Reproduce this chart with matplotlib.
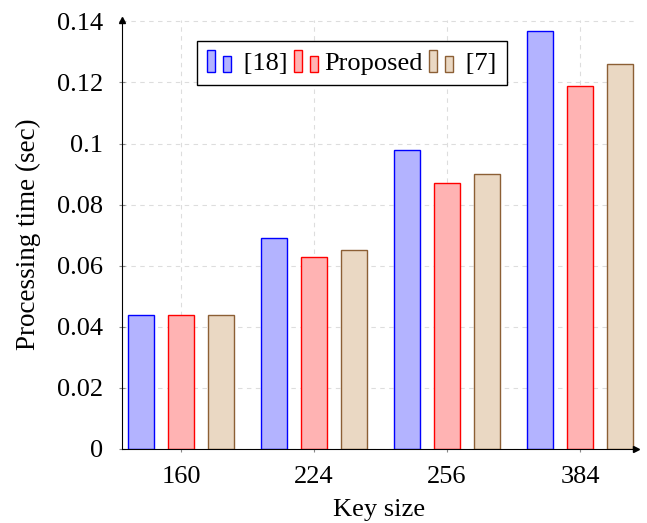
import numpy as np
import matplotlib
matplotlib.use("Agg")
from matplotlib import pyplot as plt
from matplotlib.patches import Rectangle
from matplotlib.legend_handler import HandlerBase

# Data
key_sizes = ["160", "224", "256", "384"]
ref18 = [0.044, 0.069, 0.098, 0.137]
proposed = [0.044, 0.063, 0.087, 0.119]
ref7 = [0.044, 0.065, 0.090, 0.126]
series_names = [" [18]", "Proposed", " [7]"]

plt.rcParams["font.family"] = ["Liberation Serif", "DejaVu Serif"]


class TwoBarHandler(HandlerBase):
    # pgfplots style legend: two small bars of different height
    def create_artists(self, legend, orig, xd, yd, width, height, fontsize, trans):
        fc = orig.get_facecolor()
        ec = orig.get_edgecolor()
        w = width / 3
        base = yd - height * 0.1
        r1 = Rectangle((xd, base), w, height * 1.15,
                       facecolor=fc, edgecolor=ec, lw=1, transform=trans)
        r2 = Rectangle((xd + width * 2 / 3, base), w, height * 0.87,
                       facecolor=fc, edgecolor=ec, lw=1, transform=trans)
        return [r1, r2]


fig = plt.figure(figsize=(6.47, 5.23), dpi=100)
ax = fig.add_axes([0.1878, 0.1415, 0.795, 0.8205])

x = np.arange(len(key_sizes))
width = 0.2
offset = 0.3
styles = [
    ("#b3b3ff", "#0000ff"),
    ("#ffb3b3", "#ff0000"),
    ("#ead8c3", "#8c5f35"),
]
bars = []
for i, (vals, (fc, ec)) in enumerate(zip([ref18, proposed, ref7], styles)):
    b = ax.bar(x + (i - 1) * offset, vals, width, facecolor=fc, edgecolor=ec,
               linewidth=1, zorder=3, label=series_names[i])
    bars.append(b[0])

ax.set_xlim(-0.447, 3.42)
ax.set_ylim(0, 0.1405)
ax.set_xticks(x)
ax.set_xticklabels(key_sizes)
ax.set_yticks(np.arange(0, 0.141, 0.02))
ax.set_yticklabels(["0", "0.02", "0.04", "0.06", "0.08", "0.1", "0.12", "0.14"])
ax.tick_params(labelsize=19, direction="inout", length=5, color="#888888",
               width=0.8)
ax.tick_params(axis="y", pad=10.5)
ax.tick_params(axis="x", pad=9.5)
ax.grid(True, linestyle=(0, (4, 4)), color="#dddddd", linewidth=0.8, zorder=0)

ax.spines["top"].set_visible(False)
ax.spines["right"].set_visible(False)
ax.spines["left"].set_zorder(4)
ax.spines["bottom"].set_zorder(4)
# arrow heads on the axes
ax.plot(1, 0, ">k", transform=ax.transAxes, clip_on=False, markersize=4, zorder=5)
ax.plot(0, 1, "^k", transform=ax.transAxes, clip_on=False, markersize=4, zorder=5)

ax.set_xlabel("Key size", fontsize=19, labelpad=8)
ax.set_ylabel("Processing time (sec)", fontsize=19.5, labelpad=12)

leg = ax.legend(handles=bars, labels=series_names, ncol=3, loc="upper left",
                bbox_to_anchor=(0.147, 0.95), fontsize=19, fancybox=False,
                edgecolor="black", framealpha=1, handler_map={
                    b: TwoBarHandler() for b in bars},
                handlelength=0.92, handletextpad=0.23, columnspacing=0.23,
                borderpad=0.38, borderaxespad=0)
leg.get_frame().set_linewidth(1)

fig.savefig("out.png", dpi=100)
